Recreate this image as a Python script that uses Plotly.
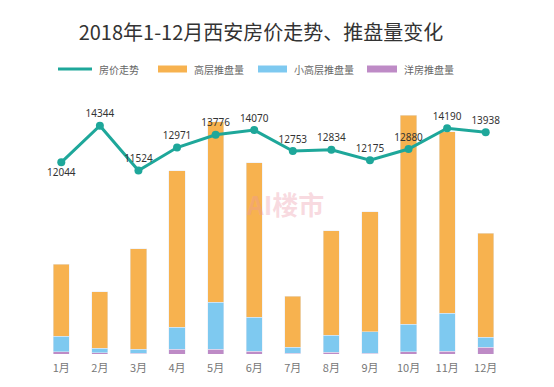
import plotly.graph_objects as go

months = ["1月", "2月", "3月", "4月", "5月", "6月", "7月", "8月", "9月", "10月", "11月", "12月"]
price = [12044, 14344, 11524, 12971, 13776, 14070, 12753, 12834, 12175, 12880, 14190, 13938]
high_rise = [72, 56.6, 100.3, 156.6, 180.6, 154.6, 51.3, 104.6, 120, 209, 181.6, 104]
mid_rise = [15.7, 4.2, 4.2, 22, 47, 33.7, 5.7, 16.7, 21.3, 27.7, 38, 10]
villa = [2.3, 1.5, 0.6, 4.7, 4.7, 3, 1, 2, 1, 2.3, 2.7, 6.7]

C_LINE = "#1EA79A"
C_HIGH = "#F7B24F"
C_MID = "#7EC9F0"
C_VILLA = "#BE8BC6"

fig = go.Figure()
fig.add_trace(go.Bar(x=months, y=villa, name="洋房推盘量", marker_color=C_VILLA, yaxis="y"))
fig.add_trace(go.Bar(x=months, y=mid_rise, name="小高层推盘量", marker_color=C_MID, yaxis="y"))
fig.add_trace(go.Bar(x=months, y=high_rise, name="高层推盘量", marker_color=C_HIGH, yaxis="y"))

positions = ["bottom center"] + ["top center"] * 11
fig.add_trace(go.Scatter(
    x=months, y=price, name="房价走势", mode="lines+markers+text",
    line=dict(color=C_LINE, width=3), marker=dict(color=C_LINE, size=8),
    text=[str(v) for v in price], textposition=positions,
    textfont=dict(family="Noto Sans", size=10, color="#333333"),
    yaxis="y2", cliponaxis=False,
))

OFF = 8  # page body margin
W, H = 554 - OFF, 387 - OFF
L, R, T, B = 42 - OFF, 49, 100 - OFF, 33
pw = W - L - R
ph = H - T - B


def px(x):
    return (x - OFF - L) / pw


def py(y):
    return (H + OFF - B - y) / ph


shapes = []
annotations = []
ly = 69
shapes.append(dict(type="line", xref="paper", yref="paper", x0=px(58), x1=px(92), y0=py(ly), y1=py(ly),
                   line=dict(color=C_LINE, width=3)))
for (x0, x1, col) in [(158, 187, C_HIGH), (258, 287, C_MID), (367, 397, C_VILLA)]:
    shapes.append(dict(type="rect", xref="paper", yref="paper", x0=px(x0), x1=px(x1), y0=py(ly - 3.5),
                       y1=py(ly + 3.5), fillcolor=col, line=dict(width=0)))
for (x, t) in [(97, "房价走势"), (192, "高层推盘量"), (292, "小高层推盘量"), (402, "洋房推盘量")]:
    annotations.append(dict(xref="paper", yref="paper", x=px(x), y=py(ly), text=t, showarrow=False,
                            xanchor="left", yanchor="middle",
                            font=dict(family="Noto Sans CJK SC", size=10, color="#666666")))

annotations.append(dict(xref="paper", yref="paper", x=px(285), y=py(183), text="<b>AI楼市</b>", showarrow=False,
                        font=dict(family="Noto Sans CJK SC", size=26, color="rgba(235,150,165,0.35)")))

fig.update_layout(
    width=W, height=H,
    margin=dict(l=L, r=R, t=T, b=B, autoexpand=False),
    paper_bgcolor="white", plot_bgcolor="white",
    barmode="stack", bargap=0.58,
    showlegend=False,
    title=dict(text="2018年1-12月西安房价走势、推盘量变化", x=px(261), xref="paper", xanchor="center",
               y=1 - (33 - OFF) / H, yanchor="middle",
               font=dict(family="Noto Sans CJK SC", size=20, color="#333333")),
    xaxis=dict(showline=False, showgrid=False, zeroline=False, ticks="", ticklabelstandoff=6,
               tickfont=dict(family="Noto Sans CJK SC", size=11, color="#777777"), range=[-0.5, 11.5]),
    yaxis=dict(range=[0, ph], visible=False, showgrid=False),
    yaxis2=dict(range=[0, 15960], overlaying="y", visible=False, showgrid=False),
    shapes=shapes, annotations=annotations,
)

fig.write_html("out.html")
